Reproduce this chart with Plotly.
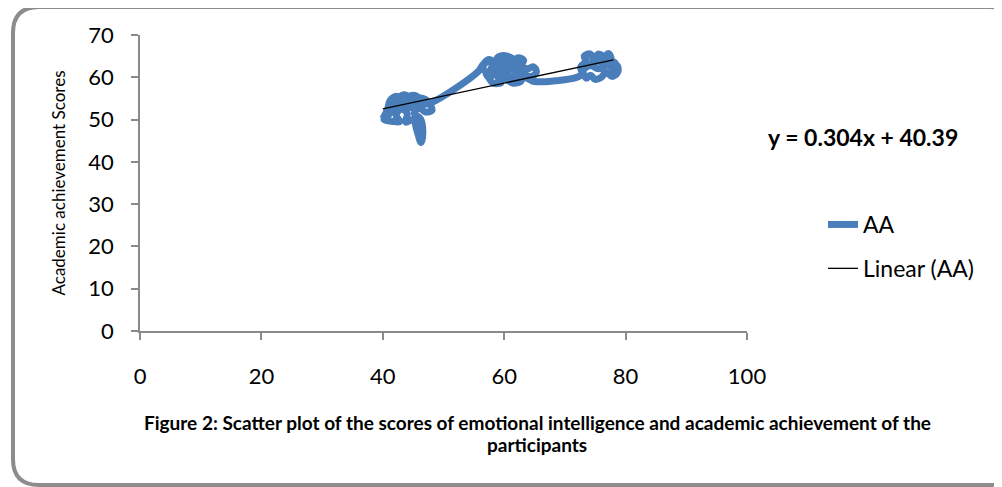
import plotly.graph_objects as go

# ---- data ----
ei_scores = [40.0, 40.8, 41.2, 42.3, 42.8, 41.8, 42.5, 43.8, 44.5, 43.5, 44.2, 45.5, 46.2, 45.0,
             45.8, 47.0, 47.8, 48.1, 47.0,
             46.0, 45.2, 46.2, 46.6, 46.3, 45.6, 45.0, 43.8, 44.0, 43.0, 42.2, 42.8, 41.5, 40.2,
             41.0, 42.0, 43.5, 44.8, 45.5, 46.8, 48.0,
             55.8, 56.5, 57.5, 58.3, 57.8, 59.0, 59.8, 60.8, 60.2, 61.5, 62.2, 63.2, 62.8, 63.8,
             64.8, 65.3, 64.5, 63.2, 62.5, 61.8, 62.8, 61.5, 60.5, 60.0, 59.0, 59.5, 58.2, 57.5,
             57.0, 58.0, 59.5, 61.0, 62.0, 60.5, 59.0, 58.5, 57.0, 56.5, 58.5, 60.5, 62.5, 64.0,
             65.0, 68.5, 72.0,
             72.8, 72.6, 73.5, 73.2, 74.2, 74.8, 75.5, 76.5, 77.2, 77.6, 76.8, 77.8, 78.6, 78.7,
             77.8, 76.8, 76.0, 75.0, 74.2, 73.6, 73.0, 74.2, 75.5, 76.6, 75.6, 74.5, 75.8, 77.0,
             78.2, 78.5, 77.2]
aa_scores = [50.2, 52.5, 54.5, 55.5, 54.0, 53.2, 55.0, 55.8, 54.2, 53.5, 55.3, 55.6, 54.2, 53.6,
             55.0, 54.8, 53.5, 52.2, 51.8,
             52.8, 51.5, 50.2, 47.2, 44.6, 47.5, 50.0, 49.4, 51.5, 52.5, 51.0, 49.5, 49.6, 50.0,
             51.2, 52.8, 53.8, 52.8, 53.8, 53.6, 54.0,
             61.5, 63.0, 64.2, 63.2, 62.0, 62.5, 64.6, 63.8, 62.6, 63.0, 64.6, 64.0, 62.8, 62.0,
             62.5, 61.2, 60.2, 60.8, 61.8, 60.5, 59.2, 58.6, 59.5, 61.0, 60.0, 58.8, 58.6, 59.8,
             61.0, 61.5, 61.8, 61.8, 63.5, 65.0, 64.8, 63.8, 63.5, 62.0, 60.5, 60.2, 60.3, 59.6,
             59.0, 59.2, 60.0,
             60.8, 62.5, 63.8, 65.0, 65.5, 64.2, 65.5, 65.0, 65.6, 64.2, 63.2, 62.6, 62.8, 61.2,
             60.2, 61.2, 60.0, 59.5, 60.5, 59.8, 61.5, 62.8, 62.0, 62.8, 63.8, 63.4, 64.6, 64.0,
             63.5, 62.0, 61.8]
trend_slope = 0.304
trend_intercept = 40.39
trend_x = [40, 78]
trend_y = [trend_slope * v + trend_intercept for v in trend_x]

x_ticks = [0, 20, 40, 60, 80, 100]
y_ticks = [0, 10, 20, 30, 40, 50, 60, 70]

# page body has an 8px margin, so the figure is drawn 8px smaller
OFF = 8
W, H = 1002 - OFF, 487 - OFF
L, R, T, B = 140, 747, 35, 331   # plot area in reference pixels


def px(xp):
    return (xp - L) / (R - L)


def py(yp):
    return (B - yp) / (B - T)


FONT = "Lato"
AXIS_COL = "#8a8a8a"

fig = go.Figure()
fig.add_trace(go.Scatter(
    x=ei_scores, y=aa_scores, mode="lines", name="AA",
    line=dict(color="#4a7ebb", width=7, shape="spline", smoothing=1.1),
    legendgroup="a",
))
fig.add_trace(go.Scatter(
    x=trend_x, y=trend_y, mode="lines", name="Linear (AA)",
    line=dict(color="black", width=1.3),
    legendgroup="b",
))

axis_common = dict(
    showgrid=False, zeroline=False, showline=True, linecolor=AXIS_COL, linewidth=1.5,
    ticks="outside", ticklen=7, tickwidth=1.5, tickcolor=AXIS_COL,
    tickfont=dict(family=FONT, size=22, color="black"),
)
fig.update_xaxes(range=[0, 100], tickvals=x_ticks, ticklabelstandoff=18, **axis_common)
fig.update_yaxes(range=[0, 70], tickvals=y_ticks, ticklabelstandoff=13,
                 title=dict(text="Academic achievement Scores",
                            font=dict(family=FONT, size=17, color="black"), standoff=18),
                 **axis_common)

# rounded frame around the chart area
fl, ft, fr, fb, rad = 13, 7, 1015, 485, 26
path = (f"M {px(fl+rad)},{py(ft)} L {px(fr-rad)},{py(ft)} Q {px(fr)},{py(ft)} {px(fr)},{py(ft+rad)} "
        f"L {px(fr)},{py(fb-rad)} Q {px(fr)},{py(fb)} {px(fr-rad)},{py(fb)} "
        f"L {px(fl+rad)},{py(fb)} Q {px(fl)},{py(fb)} {px(fl)},{py(fb-rad)} "
        f"L {px(fl)},{py(ft+rad)} Q {px(fl)},{py(ft)} {px(fl+rad)},{py(ft)} Z")
fig.add_shape(type="path", path=path, xref="paper", yref="paper",
              line=dict(color="#8c8c8c", width=4), layer="below")

fig.add_annotation(text="<b>y = 0.304x + 40.39</b>", xref="paper", yref="paper",
                   x=px(863), y=py(137), xanchor="center", yanchor="middle", showarrow=False,
                   font=dict(family=FONT, size=23, color="black"))
fig.add_annotation(text="<b>Figure 2: Scatter plot of the scores of emotional intelligence and academic achievement of the</b>",
                   xref="paper", yref="paper", x=px(537), y=py(422), xanchor="center",
                   yanchor="middle", showarrow=False,
                   font=dict(family=FONT, size=19, color="black"))
fig.add_annotation(text="<b>participants</b>", xref="paper", yref="paper",
                   x=px(537), y=py(444), xanchor="center", yanchor="middle", showarrow=False,
                   font=dict(family=FONT, size=19, color="black"))

fig.update_layout(
    width=W, height=H,
    margin=dict(l=L - OFF, r=W - (R - OFF), t=T - OFF, b=H - (B - OFF)),
    paper_bgcolor="white", plot_bgcolor="white",
    showlegend=True,
    legend=dict(x=px(823), y=py(203), xanchor="left", yanchor="top",
                font=dict(family=FONT, size=23, color="black"),
                tracegroupgap=11, bgcolor="rgba(0,0,0,0)"),
)

fig.write_html("out.html")
